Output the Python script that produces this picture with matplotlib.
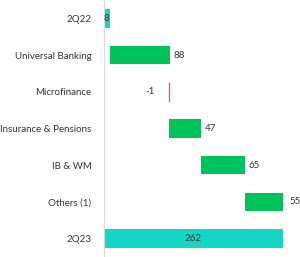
import matplotlib
matplotlib.use("Agg")
import matplotlib.pyplot as plt

categories = ["2Q22", "Universal Banking", "Microfinance", "Insurance & Pensions", "IB & WM", "Others (1)", "2Q23"]
values = [8, 88, -1, 47, 65, 55, 262]
kinds = ["total", "delta", "delta", "delta", "delta", "delta", "total"]

plt.rcParams['font.family'] = ['Lato', 'DejaVu Sans']

fig = plt.figure(figsize=(3.0, 2.57), dpi=100)
ax = fig.add_axes([0.347, 0.0, 0.653, 1.0])

teal = "#14D6C5"
green = "#00C25A"
magenta = "#FF3FD0"
txt = "#333333"

running = 0
for i, (cat, v, k) in enumerate(zip(categories, values, kinds)):
    if k == "total":
        left, width = 0, v
        color = teal
        running = v
    else:
        left, width = running, v
        color = green if v >= 0 else magenta
        running += v
    if v < 0:
        ax.plot([left + v, left + v], [i - 0.25, i + 0.25], color=magenta, lw=1)
        ax.text(left - 28, i, f"{v}", va="center", ha="center", fontsize=7, color=txt)
    else:
        ax.barh(i, width, left=left, height=0.5, color=color)
        if k == "total":
            ax.text(left + width / 2, i, f"{v}", va="center", ha="center", fontsize=7, color=txt)
        else:
            off = 10 if cat == "Others (1)" else 5
            ax.text(left + width + off, i, f"{v}", va="center", ha="left", fontsize=7, color=txt)

ax.set_ylim(6.5, -0.5)
ax.set_xlim(0, 287)
ax.set_yticks(range(len(categories)))
ax.set_yticklabels(categories, fontsize=7, color=txt)
ax.tick_params(axis="y", length=0, pad=9)
ax.set_xticks([])
for s in ["top", "right", "bottom"]:
    ax.spines[s].set_visible(False)
ax.spines["left"].set_color("#D9D9D9")
ax.spines["left"].set_linewidth(0.8)

fig.savefig("out.png", dpi=100)
